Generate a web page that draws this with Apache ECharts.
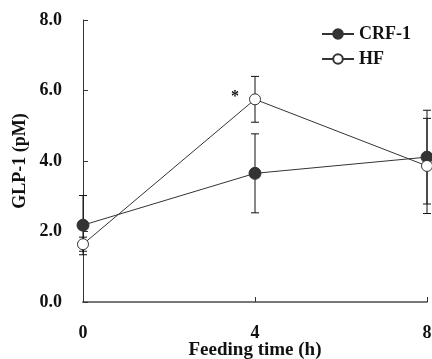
<!DOCTYPE html>
<html><head><meta charset="utf-8">
<script src="https://cdn.jsdelivr.net/npm/echarts@6/dist/echarts.min.js"></script>
<style>html,body{margin:0;padding:0;background:#fff}#c{width:432px;height:359px}</style>
</head><body><div id="c"></div>
<script>
const hours = [0, 4, 8];
const crfMean = [2.18, 3.65, 4.11];
const crfErr = [0.84, 1.12, 1.33];
const hfMean = [1.64, 5.75, 3.86];
const hfErr = [0.2, 0.65, 1.35];
const seriesNames = ['CRF-1', 'HF'];
const sigMark = '*';

const font = 'Liberation Serif';
function errSeries(means, errs) {
  return {
    type: 'custom',
    silent: true,
    z: 1,
    data: hours.map((h, i) => [h, means[i] - errs[i], means[i] + errs[i]]),
    renderItem: function (params, api) {
      const lo = api.coord([api.value(0), api.value(1)]);
      const hi = api.coord([api.value(0), api.value(2)]);
      const w = 4;
      const st = { stroke: '#111', lineWidth: 1 };
      return { type: 'group', children: [
        { type: 'line', shape: { x1: lo[0], y1: lo[1], x2: hi[0], y2: hi[1] }, style: st },
        { type: 'line', shape: { x1: lo[0] - w, y1: lo[1], x2: lo[0] + w, y2: lo[1] }, style: st },
        { type: 'line', shape: { x1: hi[0] - w, y1: hi[1], x2: hi[0] + w, y2: hi[1] }, style: st }
      ]};
    }
  };
}
const chart = echarts.init(document.getElementById('c'));
chart.setOption({
  animation: false,
  grid: { left: 83, right: 5, top: 20, bottom: 57, containLabel: false, outerBoundsMode: 'none' },
  legend: {
    orient: 'vertical', right: 16, top: 20, itemGap: 7,
    itemWidth: 32, itemHeight: 12,
    textStyle: { fontFamily: font, fontWeight: 'bold', fontSize: 18, color: '#111' },
    data: seriesNames
  },
  xAxis: {
    type: 'value', min: 0, max: 8, interval: 4,
    name: 'Feeding time (h)', nameLocation: 'middle', nameGap: 39, nameMoveOverlap: false,
    nameTextStyle: { fontFamily: font, fontWeight: 'bold', fontSize: 19, color: '#111' },
    axisLine: { lineStyle: { color: '#777', width: 2 } },
    axisTick: { inside: true, length: 5, lineStyle: { color: '#333' } },
    axisLabel: { margin: 22, fontFamily: font, fontWeight: 'bold', fontSize: 18, color: '#111' },
    splitLine: { show: false }
  },
  yAxis: {
    type: 'value', min: 0, max: 8, interval: 2,
    name: 'GLP-1 (pM)', nameLocation: 'middle', nameGap: 54, nameRotate: 90, nameMoveOverlap: false,
    nameTextStyle: { fontFamily: font, fontWeight: 'bold', fontSize: 18, color: '#111' },
    axisLine: { show: true, lineStyle: { color: '#333', width: 1 } },
    axisTick: { show: true, inside: true, length: 5, lineStyle: { color: '#333' } },
    axisLabel: { margin: 21, fontFamily: font, fontWeight: 'bold', fontSize: 18, color: '#111',
      formatter: v => v.toFixed(1) },
    splitLine: { show: false }
  },
  series: [
    errSeries(crfMean, crfErr),
    errSeries(hfMean, hfErr),
    {
      name: seriesNames[0], type: 'line', z: 3,
      data: hours.map((h, i) => [h, crfMean[i]]),
      symbol: 'circle', symbolSize: 12,
      lineStyle: { color: '#333', width: 1 },
      itemStyle: { color: '#333', borderColor: '#333', borderWidth: 1 }
    },
    {
      name: seriesNames[1], type: 'line', z: 4,
      data: hours.map((h, i) => [h, hfMean[i]]),
      symbol: 'circle', symbolSize: 11,
      lineStyle: { color: '#333', width: 1 },
      itemStyle: { color: '#fff', borderColor: '#333', borderWidth: 1 },
      markPoint: {
        symbol: 'circle', symbolSize: 1, itemStyle: { color: 'transparent' },
        label: { show: true, formatter: sigMark, offset: [-20, -2],
          fontFamily: font, fontWeight: 'bold', fontSize: 16, color: '#111' },
        data: [{ coord: [hours[1], hfMean[1]] }]
      }
    }
  ]
});
</script></body></html>
